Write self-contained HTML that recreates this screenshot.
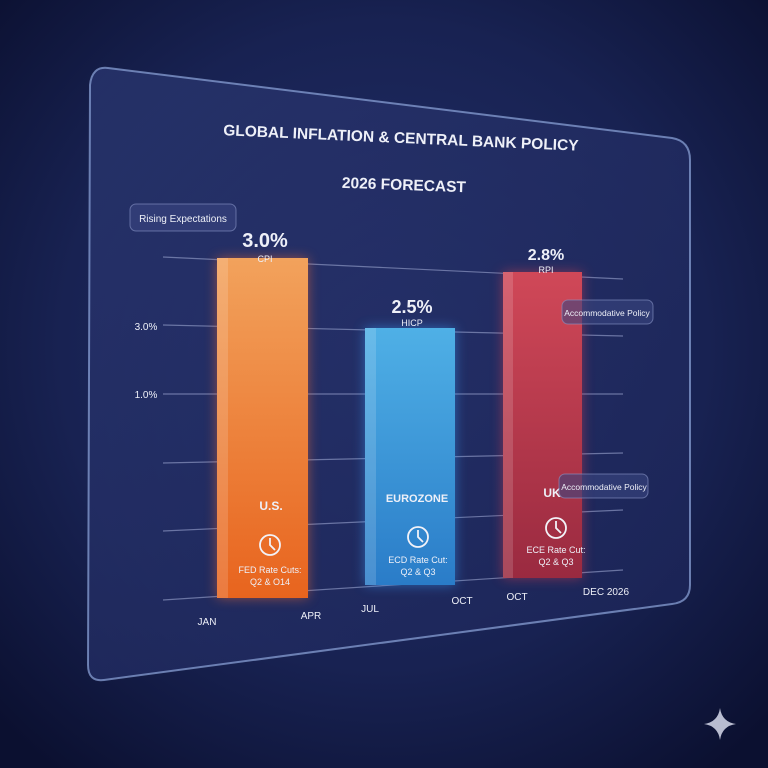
<!DOCTYPE html>
<html><head><meta charset="utf-8"><style>
html,body{margin:0;padding:0;width:768px;height:768px;overflow:hidden;background:#101638}
svg{display:block}
text{font-family:"Liberation Sans",sans-serif;fill:#eef0f8}
</style></head><body>
<svg width="768" height="768" viewBox="0 0 768 768">
<defs>
<radialGradient id="bg" cx="0.5" cy="0.45" r="0.7">
<stop offset="0" stop-color="#23306a"/><stop offset="0.6" stop-color="#182252"/><stop offset="1" stop-color="#0b1030"/>
</radialGradient>
<linearGradient id="panel" x1="0" y1="0" x2="1" y2="1">
<stop offset="0" stop-color="#2a3670" stop-opacity="0.75"/><stop offset="1" stop-color="#1c2558" stop-opacity="0.75"/>
</linearGradient>
<linearGradient id="og" x1="0" y1="0" x2="0" y2="1"><stop offset="0" stop-color="#f2a25c"/><stop offset="1" stop-color="#e8641e"/></linearGradient>
<linearGradient id="bgb" x1="0" y1="0" x2="0" y2="1"><stop offset="0" stop-color="#4fb0e6"/><stop offset="1" stop-color="#2a7cc8"/></linearGradient>
<linearGradient id="rg" x1="0" y1="0" x2="0" y2="1"><stop offset="0" stop-color="#d04858"/><stop offset="1" stop-color="#9a2a40"/></linearGradient>
<filter id="glow" x="-30%" y="-30%" width="160%" height="160%"><feGaussianBlur stdDeviation="6"/></filter>
</defs>
<rect width="768" height="768" fill="url(#bg)"/>
<path d="M108,68 L672,138 Q690,141 690,160 L690,585 Q690,602 672,604 L104,680 Q88,682 88,665 L90,85 Q92,66 108,68 Z" fill="url(#panel)" stroke="#8ea6dc" stroke-opacity="0.7" stroke-width="2"/>
<g stroke="#8a94c0" stroke-opacity="0.7" stroke-width="1.2">
<line x1="163" y1="257" x2="623" y2="279"/><line x1="163" y1="325" x2="623" y2="336"/><line x1="163" y1="394" x2="623" y2="394"/>
<line x1="163" y1="463" x2="623" y2="453"/><line x1="163" y1="531" x2="623" y2="510"/><line x1="163" y1="600" x2="623" y2="570"/>
</g>
<text x="401" y="143" font-size="15.5" text-anchor="middle" font-weight="bold" transform="rotate(2.5 401 137)">GLOBAL INFLATION &amp; CENTRAL BANK POLICY</text>
<text x="404" y="190" font-size="15.5" text-anchor="middle" font-weight="bold" transform="rotate(2 404 184)">2026 FORECAST</text>
<rect x="130" y="204" width="106" height="27" rx="6" fill="#3a4680" fill-opacity="0.6" stroke="#8a96c8" stroke-opacity="0.6"/>
<text x="183" y="222" font-size="10" text-anchor="middle">Rising Expectations</text>
<rect x="217" y="258" width="91" height="340" fill="#ff7030" opacity="0.5" filter="url(#glow)"/>
<rect x="365" y="328" width="90" height="257" fill="#3aa0ff" opacity="0.5" filter="url(#glow)"/>
<rect x="503" y="272" width="79" height="306" fill="#e04050" opacity="0.5" filter="url(#glow)"/>
<rect x="217" y="258" width="91" height="340" fill="url(#og)"/>
<rect x="217" y="258" width="11" height="340" fill="#ffffff" opacity="0.15"/>
<rect x="365" y="328" width="90" height="257" fill="url(#bgb)"/>
<rect x="365" y="328" width="11" height="257" fill="#ffffff" opacity="0.15"/>
<rect x="503" y="272" width="79" height="306" fill="url(#rg)"/>
<rect x="503" y="272" width="10" height="306" fill="#ffffff" opacity="0.15"/>
<text x="265" y="247" font-size="20" font-weight="bold" text-anchor="middle">3.0%</text>
<text x="265" y="262" font-size="9" text-anchor="middle">CPI</text>
<text x="412" y="313" font-size="18" font-weight="bold" text-anchor="middle">2.5%</text>
<text x="412" y="326" font-size="9" text-anchor="middle">HICP</text>
<text x="546" y="260" font-size="16" font-weight="bold" text-anchor="middle">2.8%</text>
<text x="546" y="273" font-size="9" text-anchor="middle">RPI</text>
<text x="146" y="330" font-size="10" text-anchor="middle">3.0%</text>
<text x="146" y="398" font-size="10" text-anchor="middle">1.0%</text>
<text x="271" y="510" font-size="12" font-weight="bold" text-anchor="middle">U.S.</text>
<text x="417" y="502" font-size="11" font-weight="bold" text-anchor="middle">EUROZONE</text>
<text x="552" y="497" font-size="12" font-weight="bold" text-anchor="middle">UK</text>
<g fill="none" stroke="#f2f2f8" stroke-width="1.8">
<circle cx="270" cy="545" r="10"/><path d="M270,538 V545 L275,550"/>
<circle cx="418" cy="537" r="10"/><path d="M418,530 V537 L423,542"/>
<circle cx="556" cy="528" r="10"/><path d="M556,521 V528 L561,533"/>
</g>
<text x="270" y="573" font-size="9" text-anchor="middle">FED Rate Cuts:</text>
<text x="270" y="585" font-size="9" text-anchor="middle">Q2 &amp; O14</text>
<text x="418" y="563" font-size="9" text-anchor="middle">ECD Rate Cut:</text>
<text x="418" y="575" font-size="9" text-anchor="middle">Q2 &amp; Q3</text>
<text x="556" y="553" font-size="9" text-anchor="middle">ECE Rate Cut:</text>
<text x="556" y="565" font-size="9" text-anchor="middle">Q2 &amp; Q3</text>
<rect x="562" y="300" width="91" height="24" rx="6" fill="#3a4680" fill-opacity="0.6" stroke="#8a96c8" stroke-opacity="0.6"/>
<text x="607" y="316" font-size="8.5" text-anchor="middle">Accommodative Policy</text>
<rect x="559" y="474" width="89" height="24" rx="6" fill="#3a4680" fill-opacity="0.6" stroke="#8a96c8" stroke-opacity="0.6"/>
<text x="604" y="490" font-size="8.5" text-anchor="middle">Accommodative Policy</text>
<text x="207" y="625" font-size="10" text-anchor="middle">JAN</text>
<text x="311" y="619" font-size="10" text-anchor="middle">APR</text>
<text x="370" y="612" font-size="10" text-anchor="middle">JUL</text>
<text x="462" y="604" font-size="10" text-anchor="middle">OCT</text>
<text x="517" y="600" font-size="10" text-anchor="middle">OCT</text>
<text x="606" y="595" font-size="10" text-anchor="middle">DEC 2026</text>
<path d="M720,708 Q722,722 736,724 Q722,726 720,740 Q718,726 704,724 Q718,722 720,708 Z" fill="#d8dcec" opacity="0.85"/>
</svg>
</body></html>
